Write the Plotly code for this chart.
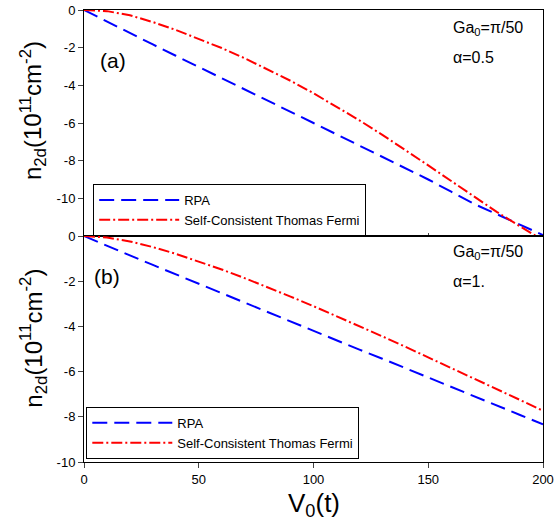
import plotly.graph_objects as go

# ---- data ----
v0 = [0, 10, 20, 30, 40, 50, 60, 70, 80, 90, 100, 110, 120, 130, 140, 150, 160, 170, 180, 190, 200]

# panel (a): alpha = 0.5
rpa_a = [0, -0.62, -1.23, -1.83, -2.43, -3.02, -3.6, -4.2, -4.8, -5.4, -6.0, -6.6, -7.2, -7.78, -8.38,
         -9.0, -9.65, -10.3, -10.85, -11.4, -11.95]
sctf_a = [0, -0.06, -0.28, -0.64, -1.06, -1.52, -2.02, -2.56, -3.14, -3.76, -4.42, -5.12, -5.86, -6.63, -7.43,
          -8.25, -9.08, -9.91, -10.73, -11.49, -12.23]

# panel (b): alpha = 1
rpa_b = [0, -0.44, -0.86, -1.28, -1.7, -2.12, -2.53, -2.95, -3.37, -3.78, -4.2, -4.62, -5.03, -5.43, -5.85,
         -6.26, -6.67, -7.09, -7.5, -7.92, -8.33]
sctf_b = [0, -0.07, -0.24, -0.49, -0.79, -1.12, -1.48, -1.865, -2.265, -2.68, -3.105, -3.54, -3.985, -4.44,
          -4.9, -5.365, -5.835, -6.305, -6.78, -7.255, -7.735]

series_names = ["RPA", "Self-Consistent Thomas Fermi"]
x_ticks = [0, 50, 100, 150, 200]
y_ticks_a = [0, -2, -4, -6, -8, -10]
y_ticks_b = [0, -2, -4, -6, -8, -10]

FONT = "Arial, Liberation Sans, sans-serif"
BLUE = "#0000ff"
RED = "#ff0000"
DASH_BLUE = "15px,7px"
DASH_RED = "11px,3px,2px,3px"

fig = go.Figure()

fig.add_trace(go.Scatter(x=v0, y=rpa_a, mode="lines", name=series_names[0],
                         line=dict(color=BLUE, width=2, dash=DASH_BLUE),
                         xaxis="x", yaxis="y", legend="legend"))
fig.add_trace(go.Scatter(x=v0, y=sctf_a, mode="lines", name=series_names[1],
                         line=dict(color=RED, width=2, dash=DASH_RED),
                         xaxis="x", yaxis="y", legend="legend"))
fig.add_trace(go.Scatter(x=v0, y=rpa_b, mode="lines", name=series_names[0],
                         line=dict(color=BLUE, width=2, dash=DASH_BLUE),
                         xaxis="x2", yaxis="y2", legend="legend2"))
fig.add_trace(go.Scatter(x=v0, y=sctf_b, mode="lines", name=series_names[1],
                         line=dict(color=RED, width=2, dash=DASH_RED),
                         xaxis="x2", yaxis="y2", legend="legend2"))

axis_common = dict(showline=True, linecolor="black", linewidth=1, mirror=True,
                   showgrid=False, zeroline=False, automargin=False,
                   tickfont=dict(family=FONT, size=13, color="black"))

legend_common = dict(bgcolor="white", bordercolor="black", borderwidth=1,
                     font=dict(family=FONT, size=13, color="black"),
                     itemwidth=80, tracegroupgap=0, xanchor="left", yanchor="top")

fig.update_layout(
    width=560, height=521, autosize=False,
    margin=dict(l=84, r=17, t=10, b=59, autoexpand=False),
    paper_bgcolor="white", plot_bgcolor="white",
    font=dict(family=FONT, color="black"),
    xaxis=dict(domain=[0, 1], anchor="y", range=[0, 200], tickvals=x_ticks,
               showticklabels=False, ticks="inside", ticklen=3, **axis_common),
    yaxis=dict(domain=[0.5, 1], anchor="x", range=[-12, 0], tickvals=y_ticks_a,
               ticktext=[str(v) for v in y_ticks_a], ticks="outside", ticklen=5, **axis_common),
    xaxis2=dict(domain=[0, 1], anchor="y2", range=[0, 200], tickvals=x_ticks,
                ticktext=[str(v) for v in x_ticks], ticks="outside", ticklen=5, **axis_common),
    yaxis2=dict(domain=[0, 0.5], anchor="x2", range=[-10, 0], tickvals=y_ticks_b,
                ticktext=[str(v) for v in y_ticks_b], ticks="outside", ticklen=5, **axis_common),
    legend=dict(x=0.02, y=0.615, **legend_common),
    legend2=dict(x=0.005, y=0.122, **legend_common),
    showlegend=True,
)

ytitle = "n<sub>2d</sub>(10<sup>11</sup>cm<sup>-2</sup>)"
annotations = [
    dict(text=ytitle, xref="paper", yref="paper", x=-0.111, y=0.7765, textangle=-90,
         showarrow=False, xanchor="center", yanchor="middle", font=dict(family=FONT, size=24)),
    dict(text=ytitle, xref="paper", yref="paper", x=-0.111, y=0.273, textangle=-90,
         showarrow=False, xanchor="center", yanchor="middle", font=dict(family=FONT, size=24)),
    dict(text="V<sub>0</sub>(t)", xref="paper", yref="paper", x=0.5, y=-0.095,
         showarrow=False, xanchor="center", yanchor="middle", font=dict(family=FONT, size=26)),
    dict(text="(a)", xref="x", yref="y", x=12.7, y=-2.7, showarrow=False,
         xanchor="center", yanchor="middle", font=dict(family=FONT, size=21)),
    dict(text="(b)", xref="x2", yref="y2", x=10, y=-1.8, showarrow=False,
         xanchor="center", yanchor="middle", font=dict(family=FONT, size=21)),
    dict(text="Ga<sub>0</sub>=π/50", xref="x", yref="y", x=159.7, y=-1.0, showarrow=False,
         xanchor="left", yanchor="middle", font=dict(family=FONT, size=16)),
    dict(text="α=0.5", xref="x", yref="y", x=159.7, y=-2.5, showarrow=False,
         xanchor="left", yanchor="middle", font=dict(family=FONT, size=16)),
    dict(text="Ga<sub>0</sub>=π/50", xref="x2", yref="y2", x=159.7, y=-0.75, showarrow=False,
         xanchor="left", yanchor="middle", font=dict(family=FONT, size=16)),
    dict(text="α=1.", xref="x2", yref="y2", x=159.7, y=-2.03, showarrow=False,
         xanchor="left", yanchor="middle", font=dict(family=FONT, size=16)),
]
fig.update_layout(annotations=annotations)

fig.write_html("out.html", config={"displayModeBar": False},
               post_script="document.body.style.margin='0px';")
